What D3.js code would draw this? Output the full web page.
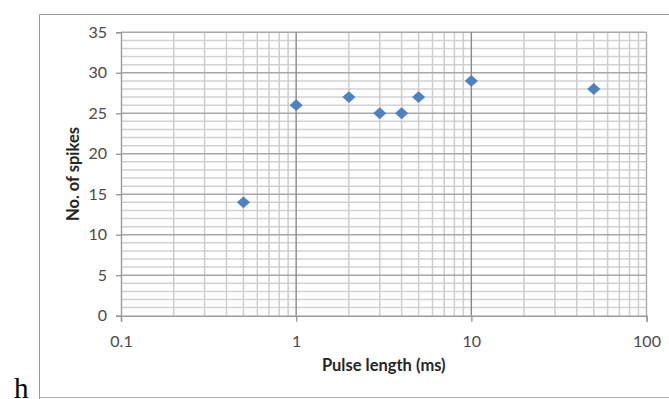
<!DOCTYPE html>
<html><head><meta charset="utf-8">
<script src="https://cdn.jsdelivr.net/npm/d3@7"></script>
<style>body{margin:0;background:#fff}svg{display:block}</style>
</head><body>
<script>
const pulseLength = [0.5, 1, 2, 3, 4, 5, 10, 50];
const spikes = [14, 26, 27, 25, 25, 27, 29, 28];
const xTickLabels = ["0.1", "1", "10", "100"];
const yTickValues = [0, 5, 10, 15, 20, 25, 30, 35];

const W = 669, H = 399;
const svg = d3.select("body").append("svg").attr("width", W).attr("height", H);
const x = d3.scaleLog().domain([0.1, 100]).range([121, 646.5]);
const y = d3.scaleLinear().domain([0, 35]).range([315.7, 32.3]);

// outer frame
svg.append("path").attr("d", `M39.5,399 V14.5 H669`).attr("fill","none").attr("stroke","#9a9a9a").attr("stroke-width",1);
svg.append("line").attr("x1",39).attr("x2",669).attr("y1",397.5).attr("y2",397.5).attr("stroke","#b0b0b0");

const g = svg.append("g");
const yMinor = d3.range(0, 36, 1).filter(v => v % 5 !== 0);
g.selectAll(".hm").data(yMinor).join("line")
  .attr("x1", x(0.1)).attr("x2", x(100)).attr("y1", d=>y(d)).attr("y2", d=>y(d))
  .attr("stroke", "#d2d2d2").attr("stroke-width", 1.5);
const xMinor = [];
[0.1,1,10].forEach(b => { for (let k=2;k<=9;k++) xMinor.push(b*k); });
g.selectAll(".vm").data(xMinor).join("line")
  .attr("x1", d=>x(d)).attr("x2", d=>x(d)).attr("y1", y(0)).attr("y2", y(35))
  .attr("stroke", "#cdcdcd").attr("stroke-width", 1.5);
g.selectAll(".hM").data(yTickValues.filter(v=>v>0)).join("line")
  .attr("x1", x(0.1)).attr("x2", x(100)).attr("y1", d=>y(d)).attr("y2", d=>y(d))
  .attr("stroke", "#a8a8a8").attr("stroke-width", 1.4);
g.selectAll(".vM").data([1,10]).join("line")
  .attr("x1", d=>x(d)).attr("x2", d=>x(d)).attr("y1", y(0)).attr("y2", y(35))
  .attr("stroke", "#8a8a8a").attr("stroke-width", 1.4);
g.append("line").attr("x1", x(100)).attr("x2", x(100)).attr("y1", y(0)).attr("y2", y(35))
  .attr("stroke", "#aaaaaa").attr("stroke-width", 1.4);

const xAxis = d3.axisBottom(x).tickValues([0.1,1,10,100]).tickFormat((d,i)=>xTickLabels[i]).tickSize(6).tickPadding(14);
const gx = svg.append("g").attr("transform", `translate(0,${y(0)})`).call(xAxis);
const yAxis = d3.axisLeft(y).tickValues(yTickValues).tickSize(5).tickPadding(9);
const gy = svg.append("g").attr("transform", `translate(${x(0.1)},0)`).call(yAxis);
[gx, gy].forEach(a => {
  a.select(".domain").attr("stroke", "#9a9a9a").attr("stroke-width", 1.4);
  a.selectAll(".tick line").attr("stroke", "#9a9a9a").attr("stroke-width", 1.4);
  a.selectAll("text").attr("fill", "#4a4a4a").style("font-family", "Lato, 'Open Sans', sans-serif").style("font-size", "16px");
});

svg.append("g").selectAll("path").data(pulseLength.map((v,i)=>[v, spikes[i]])).join("path")
  .attr("d", d3.symbol(d3.symbolSquare, 86)())
  .attr("transform", d => `translate(${x(d[0])},${y(d[1])}) scale(1,0.9) rotate(45)`)
  .attr("fill", "#4f81bd");

svg.append("text").attr("x", (x(0.1)+x(100))/2).attr("y", 371).attr("text-anchor","middle")
  .style("font-family","Lato, 'Open Sans', sans-serif").style("font-weight","bold").style("font-size","16.5px")
  .attr("fill","#262626").text("Pulse length (ms)");
svg.append("text").attr("transform", `translate(79,${(y(0)+y(35))/2}) rotate(-90)`).attr("text-anchor","middle")
  .style("font-family","Lato, 'Open Sans', sans-serif").style("font-weight","bold").style("font-size","16.5px")
  .attr("fill","#262626").text("No. of spikes");

svg.append("text").attr("x", 14).attr("y", 398).style("font-family","'Liberation Serif', serif").style("font-size","29px")
  .attr("fill","#000").text("h");
</script>
</body></html>
